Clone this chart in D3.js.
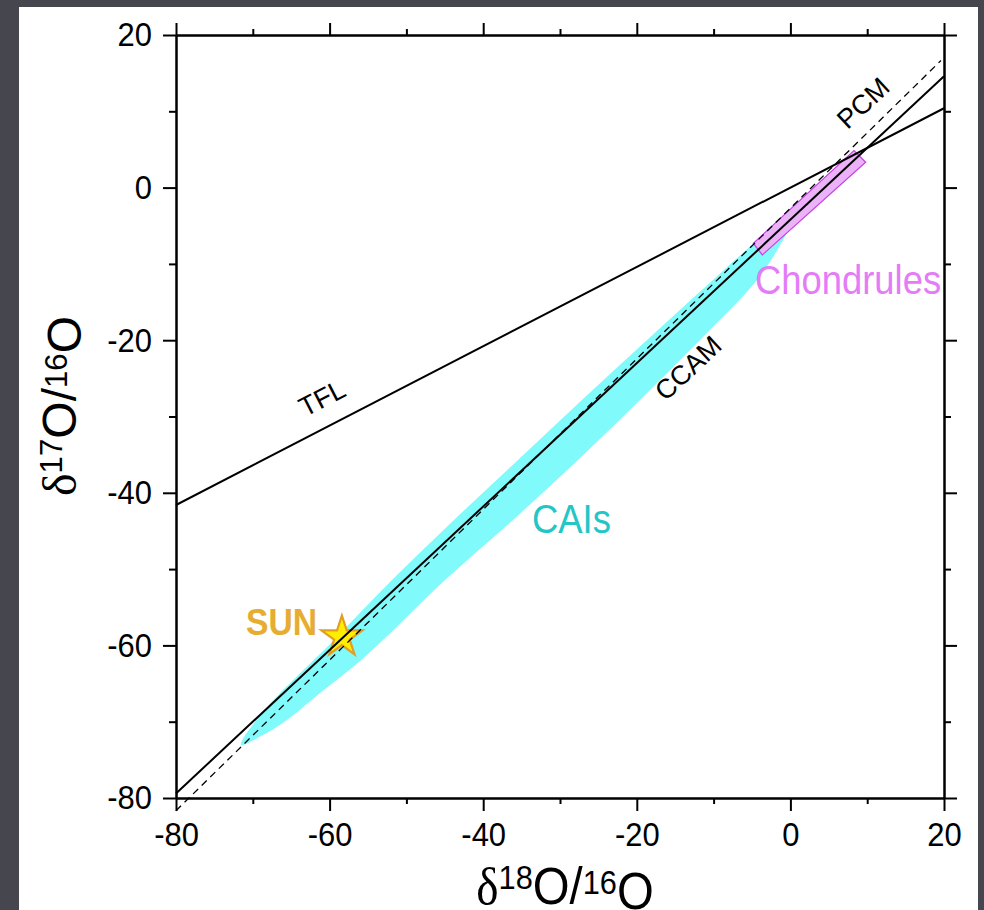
<!doctype html>
<html>
<head>
<meta charset="utf-8">
<title>Oxygen three-isotope plot</title>
<script src="https://d3js.org/d3.v7.min.js"></script>
<style>
  body { margin: 0; background: #46464f; }
  #chart { position: absolute; left: 0; top: 0; }
  .axis path, .axis line { fill: none; stroke: #000; stroke-width: 2px; }
  .axis text { font-family: "Liberation Sans", Arial, sans-serif; font-size: 34px; fill: #000; }
  .lbl { font-family: "Liberation Sans", Arial, sans-serif; }
</style>
</head>
<body>
<div id="chart"></div>
<script>
// axis ticks
const xMajor = [-80, -60, -40, -20, 0, 20];
const xMinor = [-70, -50, -30, -10, 10];
const yMajor = [-80, -60, -40, -20, 0, 20];
const yMinor = [-70, -50, -30, -10, 10];

// reference lines, endpoints [d18O, d17O]
const tflLine = [[-80, -41.6], [20, 10.4]];
const ccamLine = [[-80, -79.4], [20, 14.6]];
const pcmLine = [[-80, -81.66], [19.6, 16.65]];

// CAI field outline: upper edge tip -> top, then lower edge top -> tip
const caiUpper = [[-71.54, -73.05], [-68.8, -68.86], [-59.43, -59.29], [-51.88, -51.43],
  [-43.80, -43.56], [-35.47, -35.70], [-27.14, -27.84], [-18.67, -19.97], [-10.08, -12.11],
  [-4.22, -6.87], [0.86, -3.20]];
const caiLower = [[-0.96, -6.87], [-4.35, -12.11], [-11.77, -19.97], [-19.58, -27.84],
  [-27.66, -35.70], [-36.12, -43.56], [-44.97, -51.43], [-53.05, -59.29], [-56.95, -62.83],
  [-61.25, -66.24], [-65.55, -69.78], [-68.67, -71.74]];

// chondrule box corners
const chondruleBox = [[-4.83, -7.3], [-3.66, -8.83], [9.8, 3.32], [8.28, 4.84]];

// the Sun
const sunPoint = [-58.4, -58.9];

// text labels
const lineLabels = [
  { text: "TFL", x: -60.99, y: -27.57, angle: -27.3 },
  { text: "CCAM", x: -13.33, y: -23.64, angle: -43 },
  { text: "PCM", x: 9.45, y: 11.09, angle: -43 }
];
const fieldLabels = [
  { text: "CAIs", x: -33.65, y: -45.27, color: "#22c6c6", anchor: "start", weight: "normal", size: 40 },
  { text: "Chondrules", x: -4.61, y: -13.94, color: "#e47cf6", anchor: "start", weight: "normal", size: 40 },
  { text: "SUN", x: -61.64, y: -58.64, color: "#e6ad30", anchor: "end", weight: "bold", size: 37 }
];

const w = 984;
const h = 910;
const margin = { top: 35, right: 40, bottom: 112, left: 176 };
const squeeze = 0.91;

const svg = d3.select("#chart")
  .append("svg")
  .attr("width", w)
  .attr("height", h);

svg.append("rect")
  .attr("x", 19)
  .attr("y", 7)
  .attr("width", 959)
  .attr("height", h - 7)
  .attr("fill", "#fff");

const xScale = d3.scaleLinear()
  .domain([-80, 20])
  .range([margin.left, w - margin.right]);

const yScale = d3.scaleLinear()
  .domain([-80, 20])
  .range([h - margin.bottom, margin.top]);

const line = d3.line()
  .x(function(d) { return xScale(d[0]); })
  .y(function(d) { return yScale(d[1]); });

// CAI field
svg.append("path")
  .datum(caiUpper.concat(caiLower))
  .attr("d", d3.line()
    .x(function(d) { return xScale(d[0]); })
    .y(function(d) { return yScale(d[1]); })
    .curve(d3.curveCatmullRomClosed.alpha(0.5)))
  .attr("fill", "#80fafa")
  .attr("stroke", "none");

// chondrules
svg.append("path")
  .datum(chondruleBox)
  .attr("d", function(d) { return line(d) + "Z"; })
  .attr("fill", "#ebb2f7")
  .attr("stroke", "#c53ee3")
  .attr("stroke-width", 1.2);

// sun star
svg.append("path")
  .attr("d", d3.symbol().type(d3.symbolStar).size(520)())
  .attr("transform", "translate(" + xScale(sunPoint[0]) + "," + yScale(sunPoint[1]) + ")")
  .attr("fill", "#ffee00")
  .attr("stroke", "#e39d24")
  .attr("stroke-width", 2.2);

// reference lines
svg.append("path")
  .datum(tflLine)
  .attr("d", line)
  .attr("stroke", "#000")
  .attr("stroke-width", 2)
  .attr("fill", "none");

svg.append("path")
  .datum(ccamLine)
  .attr("d", line)
  .attr("stroke", "#000")
  .attr("stroke-width", 2)
  .attr("fill", "none");

svg.append("path")
  .datum(pcmLine)
  .attr("d", line)
  .attr("stroke", "#000")
  .attr("stroke-width", 1.3)
  .attr("stroke-dasharray", "7,5")
  .attr("fill", "none");

// axes
function addAxis(axis, translate) {
  return svg.append("g")
    .attr("class", "axis")
    .attr("transform", translate)
    .call(axis);
}

const bottomY = "translate(0," + yScale(-80) + ")";
const topY = "translate(0," + yScale(20) + ")";
const leftX = "translate(" + xScale(-80) + ",0)";
const rightX = "translate(" + xScale(20) + ",0)";
const plain = function(d) { return String(d); };

addAxis(d3.axisBottom(xScale).tickValues(xMinor).tickSize(6).tickSizeOuter(0).tickFormat(""), bottomY);
addAxis(d3.axisTop(xScale).tickValues(xMinor).tickSize(6).tickSizeOuter(0).tickFormat(""), topY);
addAxis(d3.axisLeft(yScale).tickValues(yMinor).tickSize(7).tickSizeOuter(0).tickFormat(""), leftX);
addAxis(d3.axisRight(yScale).tickValues(yMinor).tickSize(7).tickSizeOuter(0).tickFormat(""), rightX);
addAxis(d3.axisTop(xScale).tickValues(xMajor).tickSize(12).tickSizeOuter(0).tickFormat(""), topY);
addAxis(d3.axisRight(yScale).tickValues(yMajor).tickSize(13).tickSizeOuter(0).tickFormat(""), rightX);

const xAxisG = addAxis(d3.axisBottom(xScale).tickValues(xMajor).tickSize(13).tickSizeOuter(0)
  .tickPadding(11).tickFormat(plain), bottomY);
xAxisG.selectAll("text")
  .attr("transform", "scale(" + squeeze + ",1)");

const yAxisG = addAxis(d3.axisLeft(yScale).tickValues(yMajor).tickSize(13).tickSizeOuter(0)
  .tickPadding(11).tickFormat(plain), leftX);
yAxisG.selectAll("text")
  .attr("x", -24 / squeeze)
  .attr("transform", "scale(" + squeeze + ",1)");

// line labels
lineLabels.forEach(function(d) {
  svg.append("text")
    .attr("class", "lbl")
    .attr("transform", "translate(" + xScale(d.x) + "," + yScale(d.y) + ") rotate(" + d.angle + ")")
    .attr("text-anchor", "middle")
    .attr("dy", "0.35em")
    .style("font-size", "27px")
    .text(d.text);
});

// field labels
fieldLabels.forEach(function(d) {
  svg.append("text")
    .attr("class", "lbl")
    .attr("transform", "translate(" + xScale(d.x) + "," + yScale(d.y) + ") scale(" + squeeze + ",1)")
    .attr("text-anchor", d.anchor)
    .attr("fill", d.color)
    .style("font-size", d.size + "px")
    .style("font-weight", d.weight)
    .text(d.text);
});

// axis titles
function axisTitle(g, top, bottom) {
  g.append("tspan")
    .style("font-family", "'Liberation Serif', 'Times New Roman', serif")
    .text("\u03B4");
  g.append("tspan")
    .attr("dy", "-0.45em")
    .style("font-size", "0.65em")
    .text(top);
  g.append("tspan")
    .attr("dy", "0.29em")
    .text("O/");
  g.append("tspan")
    .attr("dy", "-0.29em")
    .style("font-size", "0.65em")
    .text(bottom);
  g.append("tspan")
    .attr("dy", "0.29em")
    .text("O");
}

const xTitle = svg.append("text")
  .attr("class", "lbl")
  .attr("transform", "translate(565,904) scale(" + squeeze + ",1)")
  .attr("text-anchor", "middle")
  .style("font-size", "52px");
axisTitle(xTitle, "18", "16");

const yTitle = svg.append("text")
  .attr("class", "lbl")
  .attr("transform", "translate(76,406) rotate(-90)")
  .attr("text-anchor", "middle")
  .style("font-size", "48px");
axisTitle(yTitle, "17", "16");
</script>
</body>
</html>
